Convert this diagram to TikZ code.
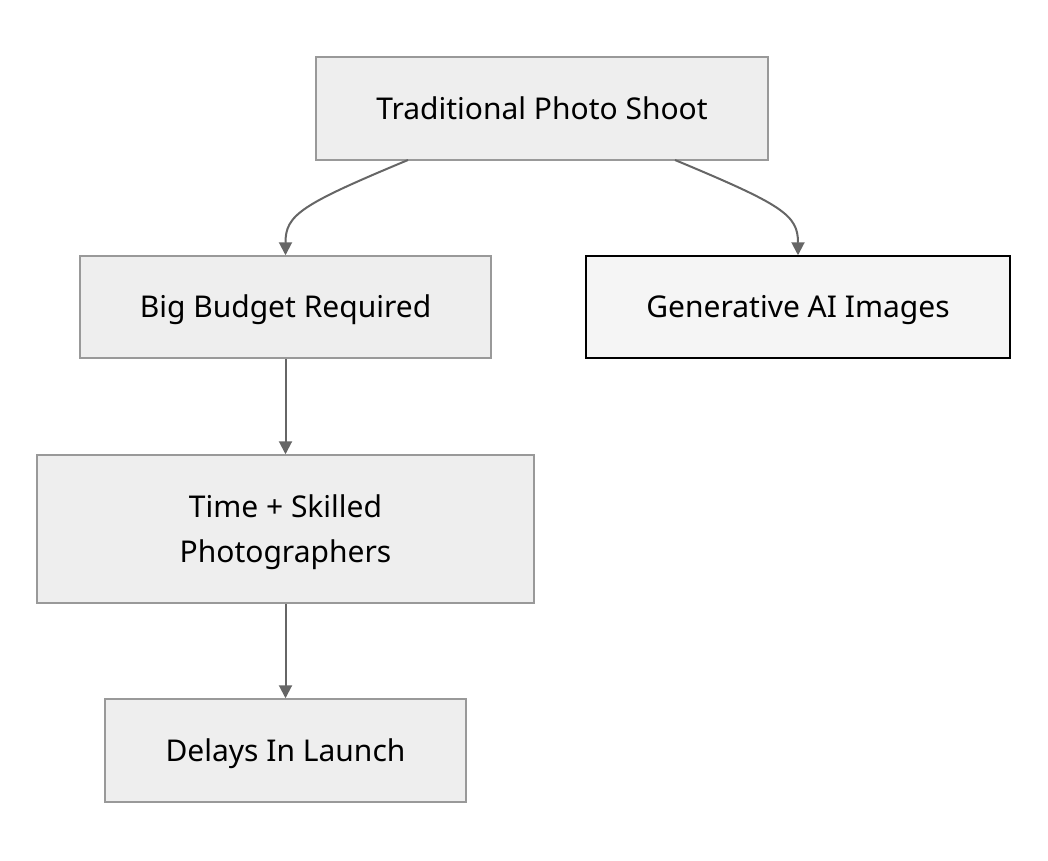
\documentclass[tikz,border=0pt]{standalone}
\usepackage{fontspec}
\setmainfont{Noto Sans}
\usetikzlibrary{arrows.meta}
\definecolor{boxfill}{HTML}{EEEEEE}
\definecolor{boxline}{HTML}{999999}
\definecolor{altfill}{HTML}{F5F5F5}
\definecolor{edge}{HTML}{666666}
\begin{document}
\begin{tikzpicture}[x=1pt,y=-1pt,
  box/.style={draw=boxline, fill=boxfill, line width=1.5pt, rectangle, inner sep=0pt, align=center,
    font=\fontsize{30}{45}\selectfont, text height=21.5pt, text depth=0pt},
  altbox/.style={box, draw=black, fill=altfill},
  conn/.style={draw=edge, line width=2pt, -{Triangle[length=13pt,width=13pt]}}]
\useasboundingbox (0,0) rectangle (1048,860);
\node[box, minimum width=452pt, minimum height=103pt] (trad) at (542,108.5) {Traditional Photo Shoot};
\node[box, minimum width=411pt, minimum height=102pt] (budget) at (285.5,307) {Big Budget Required};
\node[altbox, minimum width=424pt, minimum height=102pt] (gen) at (798,307) {Generative AI Images};
\node[box, minimum width=497pt, minimum height=148pt, text height=66.5pt] (time) at (285.5,529) {Time + Skilled\\Photographers};
\node[box, minimum width=361pt, minimum height=103pt] (delay) at (285.5,750.5) {Delays In Launch};
\coordinate (t1) at (408,160);
\coordinate (t2) at (675,160);
\draw[conn] (t1) .. controls (300,205) and (285.5,215) .. (budget.north);
\draw[conn] (t2) .. controls (783,205) and (798,215) .. (gen.north);
\draw[conn] (budget) -- (time);
\draw[conn] (time) -- (delay);
\end{tikzpicture}
\end{document}
